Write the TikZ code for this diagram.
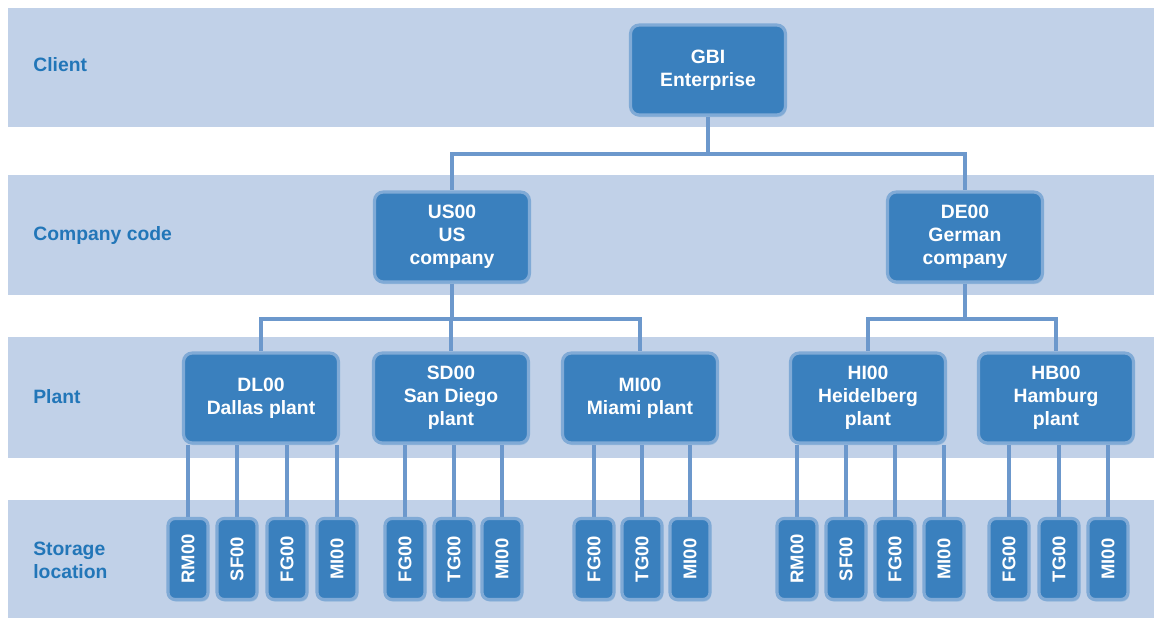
\documentclass[tikz,border=0pt]{standalone}
\usepackage{fontspec}
\setmainfont{Liberation Sans}
\usepackage{graphicx}
\usetikzlibrary{backgrounds,shadows}
\definecolor{bandblue}{RGB}{193,209,232}
\definecolor{boxblue}{RGB}{58,128,190}
\definecolor{boxrim}{RGB}{128,170,214}
\definecolor{linkblue}{RGB}{108,152,204}
\definecolor{textblue}{RGB}{34,118,184}

\tikzset{
  orgbox/.style={draw=boxrim, line width=1.8pt, fill=boxblue, rounded corners=5pt,
    text=white, font=\fontsize{11}{13}\selectfont\bfseries, align=center,
    minimum width=3.1cm, minimum height=1.8cm, inner sep=0pt,
    drop shadow={shadow xshift=0.6pt, shadow yshift=-1.2pt, fill=boxblue!70, opacity=0.45}},
  storebox/.style={orgbox, minimum width=0.8cm, minimum height=1.62cm,
    rounded corners=4pt, font=\fontsize{10.5}{12}\selectfont\bfseries},
  levellabel/.style={anchor=west, inner sep=0pt, text=textblue, align=left,
    font=\fontsize{11}{13}\selectfont\bfseries},
  band/.style={fill=bandblue},
  link/.style={draw=linkblue, line width=2.2pt}
}

\begin{document}
\begin{tikzpicture}[x=0.02cm, y=-0.02cm]
\useasboundingbox (0,0) rectangle (1154,618);

%levels
\node[levellabel] (lclient) at (33,65) {Client};
\node[levellabel] (lcompany) at (33,236) {Company code};
\node[levellabel] (lplant) at (33,397) {Plant};
\node[levellabel] (lstorage) at (33,560) {Storage\\location};

%client and company codes
\node[orgbox] (gbi) at (708,70) {GBI\\Enterprise};
\node[orgbox] (us) at (452,237) {US00\\US\\company};
\node[orgbox] (de) at (965,237) {DE00\\German\\company};

%plants
\node[orgbox] (dl) at (261,398) {DL00\\Dallas plant};
\node[orgbox] (sd) at (451,398) {SD00\\San Diego\\plant};
\node[orgbox] (mi) at (640,398) {MI00\\Miami plant};
\node[orgbox] (hi) at (868,398) {HI00\\Heidelberg\\plant};
\node[orgbox] (hb) at (1056,398) {HB00\\Hamburg\\plant};

%storage locations
\node[storebox] (dlrm) at (188,559) {\rotatebox{90}{RM00}};
\node[storebox] (dlsf) at (237,559) {\rotatebox{90}{SF00}};
\node[storebox] (dlfg) at (287,559) {\rotatebox{90}{FG00}};
\node[storebox] (dlmi) at (337,559) {\rotatebox{90}{MI00}};
\node[storebox] (sdfg) at (405,559) {\rotatebox{90}{FG00}};
\node[storebox] (sdtg) at (454,559) {\rotatebox{90}{TG00}};
\node[storebox] (sdmi) at (502,559) {\rotatebox{90}{MI00}};
\node[storebox] (mifg) at (594,559) {\rotatebox{90}{FG00}};
\node[storebox] (mitg) at (642,559) {\rotatebox{90}{TG00}};
\node[storebox] (mimi) at (690,559) {\rotatebox{90}{MI00}};
\node[storebox] (hirm) at (797,559) {\rotatebox{90}{RM00}};
\node[storebox] (hisf) at (846,559) {\rotatebox{90}{SF00}};
\node[storebox] (hifg) at (895,559) {\rotatebox{90}{FG00}};
\node[storebox] (himi) at (944,559) {\rotatebox{90}{MI00}};
\node[storebox] (hbfg) at (1009,559) {\rotatebox{90}{FG00}};
\node[storebox] (hbtg) at (1059,559) {\rotatebox{90}{TG00}};
\node[storebox] (hbmi) at (1108,559) {\rotatebox{90}{MI00}};

\begin{pgfonlayer}{background}
%bands
\fill[band] (8,8) rectangle (1154,127);
\fill[band] (8,175) rectangle (1154,295);
\fill[band] (8,337) rectangle (1154,458);
\fill[band] (8,500) rectangle (1154,618);

%links
\draw[link] (gbi.south) -- ++(0,37) -| (us.north);
\draw[link] (gbi.south) -- ++(0,37) -| (de.north);
\draw[link] (us.south) -- ++(0,35) -| (dl.north);
\draw[link] (us.south) -- ++(0,35) -| (sd.north);
\draw[link] (us.south) -- ++(0,35) -| (mi.north);
\draw[link] (de.south) -- ++(0,35) -| (hi.north);
\draw[link] (de.south) -- ++(0,35) -| (hb.north);

\foreach \p/\s in {dl/dlrm, dl/dlsf, dl/dlfg, dl/dlmi, sd/sdfg, sd/sdtg, sd/sdmi,
  mi/mifg, mi/mitg, mi/mimi, hi/hirm, hi/hisf, hi/hifg, hi/himi, hb/hbfg, hb/hbtg, hb/hbmi}
  \draw[link] (\s.north) -- (\s.north |- \p.south);
\end{pgfonlayer}
\end{tikzpicture}
\end{document}
